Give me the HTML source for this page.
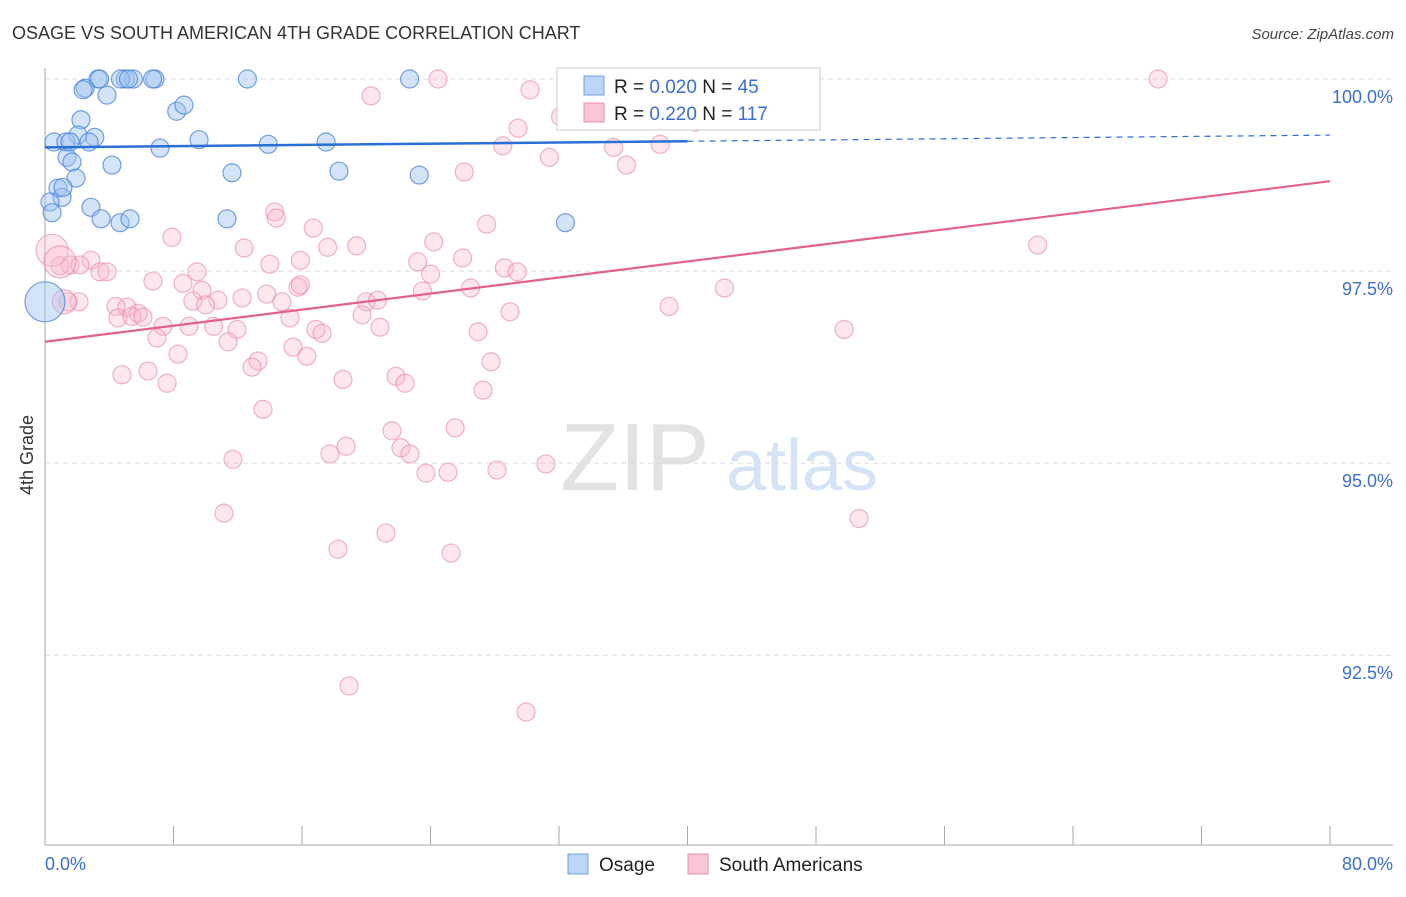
<!DOCTYPE html>
<html><head><meta charset="utf-8"><style>
body{margin:0;background:#fff;font-family:"Liberation Sans",sans-serif;}
svg text{font-family:"Liberation Sans",sans-serif;}
</style></head><body>
<svg id="chart" width="1406" height="892" xmlns="http://www.w3.org/2000/svg">
<text x="12" y="39" font-size="18" fill="#333">OSAGE VS SOUTH AMERICAN 4TH GRADE CORRELATION CHART</text>
<text x="1394" y="39" font-size="15" fill="#444" text-anchor="end" font-style="italic">Source: ZipAtlas.com</text>
<text transform="translate(33,455) rotate(-90)" font-size="18" fill="#333" text-anchor="middle">4th Grade</text>
<g><text x="635" y="490" font-size="96" fill="#e2e2e2" font-family="Liberation Serif" text-anchor="middle">ZIP</text><text x="802" y="490" font-size="72" fill="#d4e3f5" text-anchor="middle">atlas</text></g>
<g id="grid"></g><g id="axes"></g><g id="pts"></g><g id="trends"></g>
<g>
<rect x="557" y="68" width="263" height="62" fill="#fff" stroke="#ccc"/>
<rect x="584" y="76" width="20" height="19" fill="#bcd4f5" stroke="#6f9fe0"/>
<rect x="584" y="103" width="20" height="19" fill="#f9c6d5" stroke="#e890ab"/>
<text x="614" y="93" font-size="19" fill="#222">R = <tspan fill="#3a6fd0">0.020</tspan>   N = <tspan fill="#3a6fd0"> 45</tspan></text>
<text x="614" y="120" font-size="19" fill="#222">R = <tspan fill="#3a6fd0"> 0.220</tspan>   N = <tspan fill="#3a6fd0">117</tspan></text>
</g>
<g>
<rect x="568" y="854" width="20" height="20" fill="#bcd4f5" stroke="#6f9fe0"/><text x="599" y="871" font-size="19" fill="#222">Osage</text>
<rect x="688" y="854" width="20" height="20" fill="#f9c6d5" stroke="#e890ab"/><text x="719" y="871" font-size="19" fill="#222">South Americans</text>
</g>
</svg>
<script>
const blueX=[3.3,5.0,5.5,4.7,6.85,12.6,22.7,2.5,2.37,3.86,8.2,8.65,2.24,2.05,3.1,0.56,1.3,2.74,7.16,9.59,13.9,17.5,1.37,1.68,4.17,11.64,18.3,23.3,1.93,0.81,1.06,0.31,0.44,2.86,3.49,4.67,5.29,11.33,32.4,1.12,1.56,5.2,6.7,3.4,0.0];
const blueY=[100,100,100,100,100,100,100,99.88,99.86,99.79,99.58,99.66,99.47,99.27,99.24,99.18,99.18,99.18,99.10,99.21,99.15,99.18,98.98,98.92,98.88,98.78,98.80,98.75,98.71,98.58,98.46,98.40,98.26,98.33,98.18,98.13,98.18,98.18,98.13,98.59,99.18,100,100,100,97.10];
const blueR=[9,9,9,9,9,9,9,9,9,9,9,9,9,9,9,9,9,9,9,9,9,9,9,9,9,9,9,9,9,9,9,9,9,9,9,9,9,9,9,9,9,9,9,9,20];
const pinkX=[24.47,32.62,69.3,20.3,30.2,40.5,29.45,32.1,28.5,35.4,38.3,31.4,36.2,26.1,14.3,14.4,27.5,16.7,7.9,12.4,17.6,19.4,24.2,61.8,23.2,26.0,28.6,29.4,24.0,15.9,2.86,1.56,2.18,0.93,3.42,3.86,9.46,6.72,8.59,14.0,15.75,15.9,23.5,26.5,9.77,12.27,9.21,13.8,10.77,4.42,2.12,1.43,5.1,5.79,10.0,14.75,20.0,20.7,28.95,38.85,42.3,4.54,5.42,6.1,7.35,8.97,10.5,11.95,15.25,16.87,17.25,19.74,20.86,26.96,49.75,6.97,11.4,15.44,16.3,8.28,27.77,13.26,12.89,4.79,6.41,7.6,18.55,21.85,22.41,27.27,13.57,21.6,25.53,18.74,17.74,22.16,22.72,11.7,23.72,25.09,28.14,31.19,11.14,50.68,21.23,18.24,25.28,18.93,29.95,0.44,0.93,1.2];
const pinkY=[100,100,100,99.78,99.86,99.44,99.36,99.51,99.13,99.11,99.15,98.98,98.88,98.79,98.27,98.19,98.11,98.06,97.94,97.80,97.81,97.83,97.88,97.84,97.62,97.67,97.54,97.49,97.46,97.64,97.64,97.58,97.58,97.57,97.49,97.49,97.49,97.37,97.34,97.59,97.29,97.32,97.24,97.28,97.25,97.15,97.11,97.20,97.12,97.04,97.10,97.10,97.03,96.95,97.06,97.10,97.10,97.12,96.97,97.04,97.28,96.89,96.91,96.90,96.78,96.78,96.78,96.74,96.89,96.74,96.69,96.93,96.77,96.71,96.74,96.63,96.58,96.51,96.39,96.42,96.32,96.33,96.25,96.15,96.20,96.04,96.09,96.13,96.04,95.95,95.70,95.42,95.46,95.22,95.12,95.20,95.12,95.05,94.87,94.88,94.91,94.99,94.35,94.28,94.09,93.88,93.83,92.10,91.76,97.77,97.62,97.10];
const pinkR=pinkX.map((v,i)=>i>=pinkX.length-3?(i==pinkX.length-1?12:16):9);
const blueTrend=[99.11,99.27];
const pinkTrend=[96.58,98.67];
const yTicks=[100,97.5,95,92.5];
const yTickLabels=["100.0%","97.5%","95.0%","92.5%"];
const xTicks=[0,8,16,24,32,40,48,56,64,72,80];
const NS="http://www.w3.org/2000/svg";
const X0=45,X1=1330,XMAX=80,YTOP=79,YBOT=845,YMAX=100,YMIN=90.03;
const sx=v=>X0+(v/XMAX)*(X1-X0);
const sy=v=>YTOP+(YMAX-v)/(YMAX-YMIN)*(YBOT-YTOP);
function mk(tag,attrs,parent){const e=document.createElementNS(NS,tag);for(const k in attrs)e.setAttribute(k,attrs[k]);parent.appendChild(e);return e;}
const grid=document.getElementById('grid'),axes=document.getElementById('axes'),pts=document.getElementById('pts'),tr=document.getElementById('trends');
yTicks.forEach((t,i)=>{
 const l=mk('line',{x1:X0,x2:1393,y1:sy(t),y2:sy(t),stroke:'#ddd','stroke-dasharray':'5,4'},grid);
 
 
 const tx=mk('text',{x:1393,y:sy(t)+24,'font-size':18,fill:'#3a6fd0','text-anchor':'end'},axes);
 tx.textContent=yTickLabels[i];
 
 
});
const yax=mk('line',{x1:X0,x2:X0,y1:68,y2:YBOT,stroke:'#aaa'},axes);


const xax=mk('line',{x1:X0,x2:1393,y1:YBOT,y2:YBOT,stroke:'#aaa'},axes);


xTicks.forEach(t=>{
 const l=mk('line',{x1:sx(t),x2:sx(t),y1:826,y2:YBOT,stroke:'#aaa'},axes);
 
 
});
const xl0=mk('text',{x:45,y:870,'font-size':18,fill:'#3a6fd0'},axes);xl0.textContent='0.0%';


const xl1=mk('text',{x:1393,y:870,'font-size':18,fill:'#3a6fd0','text-anchor':'end'},axes);xl1.textContent='80.0%';


pinkX.forEach((v,i)=>{
 const c=mk('circle',{cx:sx(v),cy:sy(pinkY[i]),r:pinkR[i],fill:'rgba(248,182,202,0.35)',stroke:'rgba(232,130,160,0.6)','stroke-width':1.2},pts);
 
 
});
blueX.forEach((v,i)=>{
 const c=mk('circle',{cx:sx(v),cy:sy(blueY[i]),r:blueR[i],fill:'rgba(160,196,240,0.45)',stroke:'rgba(70,130,220,0.75)','stroke-width':1.2},pts);
 
 
});
const bAt=x=>blueTrend[0]+(blueTrend[1]-blueTrend[0])*x/XMAX;
const b1=mk('line',{x1:sx(0),y1:sy(bAt(0)),x2:sx(40),y2:sy(bAt(40)),stroke:'#2a6fd6','stroke-width':2.5},tr);


const b2=mk('line',{x1:sx(40),y1:sy(bAt(40)),x2:sx(80),y2:sy(bAt(80)),stroke:'#2a6fd6','stroke-width':1.2,'stroke-dasharray':'6,5'},tr);


const p1=mk('line',{x1:sx(0),y1:sy(pinkTrend[0]),x2:sx(80),y2:sy(pinkTrend[1]),stroke:'#e3628c','stroke-width':2.2},tr);


</script>
</body></html>
